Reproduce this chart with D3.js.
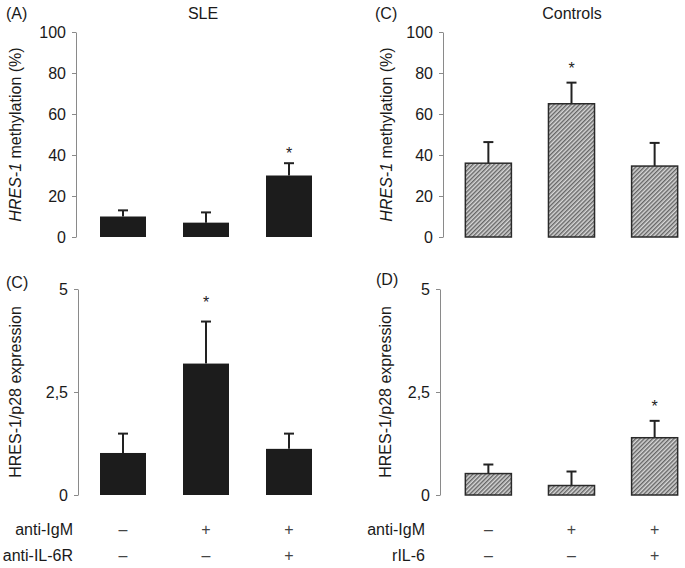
<!DOCTYPE html>
<html>
<head>
<meta charset="utf-8">
<script src="https://cdn.jsdelivr.net/npm/d3@7"></script>
<style>
  body { margin: 0; background: #fff; }
  svg { display: block; font-family: "Liberation Sans", Arial, Helvetica, sans-serif; }
</style>
</head>
<body>
<svg id="chart" width="685" height="568"></svg>
<script>
// ---- data ----
const conditions = ["1", "2", "3"];

const sleMethylation = [10, 7, 30];
const sleMethylationErr = [13, 12, 36];
const ctrlMethylation = [36, 65, 34.6];
const ctrlMethylationErr = [46.3, 75.3, 45.9];

const sleExpression = [1.02, 3.19, 1.12];
const sleExpressionErr = [1.49, 4.21, 1.49];
const ctrlExpression = [0.52, 0.23, 1.39];
const ctrlExpressionErr = [0.74, 0.57, 1.80];

// significance stars: bar index and star height (data units)
const sleMethStar = { index: 2, value: 42.4 };
const ctrlMethStar = { index: 1, value: 83.9 };
const sleExprStar = { index: 1, value: 4.76 };
const ctrlExprStar = { index: 2, value: 2.24 };

const methTicks = [0, 20, 40, 60, 80, 100];
const exprTicks = [0, 2.5, 5];
const exprTickLabels = ["0", "2,5", "5"];

const sleRowLabels = ["anti-IgM", "anti-IL-6R"];
const sleRowSigns = [["–", "+", "+"], ["–", "–", "+"]];
const ctrlRowLabels = ["anti-IgM", "rIL-6"];
const ctrlRowSigns = [["–", "+", "+"], ["–", "–", "+"]];

// ---- drawing ----
const svg = d3.select("#chart");
const defs = svg.append("defs");
const pat = defs.append("pattern")
  .attr("id", "hatch")
  .attr("patternUnits", "userSpaceOnUse")
  .attr("width", 3).attr("height", 3)
  .attr("patternTransform", "rotate(45)");
pat.append("rect").attr("width", 3).attr("height", 3).attr("fill", "#d8d8d8");
pat.append("line").attr("x1", 0.75).attr("y1", 0).attr("x2", 0.75).attr("y2", 3)
  .attr("stroke", "#5a5a5a").attr("stroke-width", 1.3);

function panel(opts) {
  const g = svg.append("g");
  const x = d3.scaleBand().domain(conditions)
    .range(opts.xRange).paddingInner(0.446).paddingOuter(0.223);
  const y = d3.scaleLinear().domain(opts.domain).range(opts.yRange);

  const axis = d3.axisLeft(y).tickValues(opts.ticks).tickSize(4).tickSizeOuter(0)
    .tickFormat((d, i) => opts.tickLabels ? opts.tickLabels[i] : d);
  const ag = g.append("g").attr("transform", `translate(${opts.axisX},0)`).call(axis);
  ag.select(".domain").attr("stroke", "#8a8a8a").attr("stroke-width", 1);
  ag.selectAll(".tick line").attr("stroke", "#8a8a8a");
  ag.selectAll(".tick text").attr("font-size", 16).attr("fill", "#1a1a1a")
    .attr("font-family", "Liberation Sans, Arial, sans-serif").attr("x", -10);

  // error bars (upward only)
  const eg = g.append("g").attr("stroke", "#222").attr("stroke-width", 2);
  conditions.forEach((c, i) => {
    const cx = x(c) + x.bandwidth() / 2;
    eg.append("line").attr("x1", cx).attr("x2", cx)
      .attr("y1", y(opts.values[i])).attr("y2", y(opts.errs[i]));
    eg.append("line").attr("x1", cx - 5).attr("x2", cx + 5)
      .attr("y1", y(opts.errs[i])).attr("y2", y(opts.errs[i]));
  });

  // bars
  g.selectAll("rect.bar").data(opts.values).join("rect")
    .attr("class", "bar")
    .attr("x", (d, i) => x(conditions[i]))
    .attr("width", x.bandwidth())
    .attr("y", d => y(d))
    .attr("height", d => y(0) - y(d))
    .attr("fill", opts.hatched ? "url(#hatch)" : "#1c1c1c")
    .attr("stroke", opts.hatched ? "#2a2a2a" : "none")
    .attr("stroke-width", 1.5);

  // star
  g.append("text")
    .attr("x", x(conditions[opts.star.index]) + x.bandwidth() / 2)
    .attr("y", y(opts.star.value) + 9)
    .attr("text-anchor", "middle").attr("font-size", 16).attr("fill", "#222")
    .text("*");

  // y title
  const tt = g.append("text")
    .attr("transform", `translate(${opts.titleX},${(opts.yRange[0] + opts.yRange[1]) / 2}) rotate(-90)`)
    .attr("text-anchor", "middle").attr("font-size", 16).attr("fill", "#1a1a1a");
  if (opts.italicPrefix) {
    tt.append("tspan").attr("font-style", "italic").text(opts.italicPrefix);
    tt.append("tspan").text(opts.titleRest);
  } else {
    tt.text(opts.titleRest);
  }

  // panel letter
  g.append("text").attr("x", opts.letterX).attr("y", opts.letterY)
    .attr("font-size", 16).attr("fill", "#1a1a1a").text(opts.letter);
  if (opts.header) {
    g.append("text").attr("x", opts.headerX).attr("y", 19)
      .attr("text-anchor", "middle").attr("font-size", 16).attr("fill", "#1a1a1a")
      .text(opts.header);
  }

  if (opts.rowLabels) {
    const rowY = [535, 561];
    opts.rowLabels.forEach((lab, r) => {
      g.append("text").attr("x", opts.rowLabelX).attr("y", rowY[r])
        .attr("text-anchor", "end").attr("font-size", 16).attr("fill", "#1a1a1a").text(lab);
      opts.rowSigns[r].forEach((s, i) => {
        g.append("text").attr("x", x(conditions[i]) + x.bandwidth() / 2).attr("y", rowY[r])
          .attr("text-anchor", "middle").attr("font-size", 16).attr("fill", "#444").text(s);
      });
    });
  }
}

panel({
  xRange: [81.5, 330.5], yRange: [237, 32], domain: [0, 100], axisX: 76,
  ticks: methTicks, values: sleMethylation, errs: sleMethylationErr, hatched: false,
  star: sleMethStar, titleX: 21, italicPrefix: "HRES-1", titleRest: " methylation (%)",
  letter: "(A)", letterX: 6, letterY: 19, header: "SLE", headerX: 203
});
panel({
  xRange: [446.8, 696.2], yRange: [237, 32], domain: [0, 100], axisX: 443,
  ticks: methTicks, values: ctrlMethylation, errs: ctrlMethylationErr, hatched: true,
  star: ctrlMethStar, titleX: 392, italicPrefix: "HRES-1", titleRest: " methylation (%)",
  letter: "(C)", letterX: 375, letterY: 19, header: "Controls", headerX: 572
});
panel({
  xRange: [81.5, 330.5], yRange: [495, 289], domain: [0, 5], axisX: 78,
  ticks: exprTicks, tickLabels: exprTickLabels, values: sleExpression, errs: sleExpressionErr, hatched: false,
  star: sleExprStar, titleX: 21, titleRest: "HRES-1/p28 expression",
  letter: "(C)", letterX: 6, letterY: 288,
  rowLabels: sleRowLabels, rowSigns: sleRowSigns, rowLabelX: 73
});
panel({
  xRange: [446.8, 696.2], yRange: [495, 289], domain: [0, 5], axisX: 440,
  ticks: exprTicks, tickLabels: exprTickLabels, values: ctrlExpression, errs: ctrlExpressionErr, hatched: true,
  star: ctrlExprStar, titleX: 391, titleRest: "HRES-1/p28 expression",
  letter: "(D)", letterX: 376, letterY: 285,
  rowLabels: ctrlRowLabels, rowSigns: ctrlRowSigns, rowLabelX: 425
});
</script>
</body>
</html>
